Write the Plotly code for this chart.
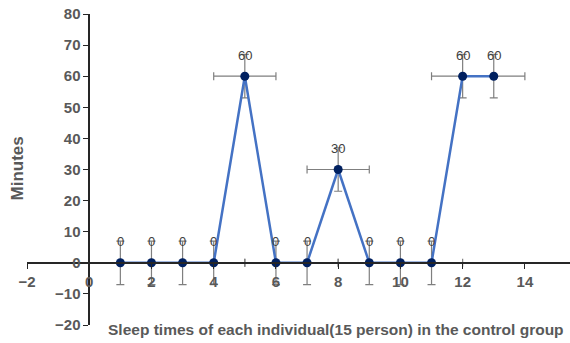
import plotly.graph_objects as go

x_vals = [1, 2, 3, 4, 5, 6, 7, 8, 9, 10, 11, 12, 13]
y_vals = [0, 0, 0, 0, 60, 0, 0, 30, 0, 0, 0, 60, 60]
y_err = [7, 7, 7, 7, 7, 7, 7, 7, 7, 7, 7, 7, 7]
x_err = [1, 1, 1, 1, 1, 1, 1, 1, 1, 1, 1, 1, 1]
x_ticks = [-2, 0, 2, 4, 6, 8, 10, 12, 14]
y_ticks = [-20, -10, 0, 10, 20, 30, 40, 50, 60, 70, 80]

X_RANGE = [-2, 15.45]
Y_RANGE = [-20, 80]

grey = "#7f7f7f"
tickfont = dict(family="Liberation Sans", size=15, color="#595959", weight="bold")

fig = go.Figure()
fig.add_trace(go.Scatter(
    x=x_vals, y=y_vals, mode="lines+markers",
    line=dict(color="#4472C4", width=2.5),
    marker=dict(color="#002060", size=9),
    error_y=dict(type="data", array=y_err, color=grey, thickness=1.2, width=4),
    error_x=dict(type="data", array=x_err, color=grey, thickness=1.2, width=4),
    showlegend=False,
    cliponaxis=False,
))

for xv, yv in zip(x_vals, y_vals):
    fig.add_annotation(x=xv, y=yv, text=str(yv), showarrow=False, yshift=21,
                       font=dict(family="Liberation Sans", size=13, color="#404040"))

fig.add_annotation(xref="paper", yref="paper", x=0.569, y=0, yanchor="middle",
                   yshift=-4,
                   text="<b>Sleep times of each individual(15 person) in the control group</b>",
                   showarrow=False, font=dict(family="Liberation Sans", size=15.5, color="#595959"))
fig.add_annotation(xref="paper", yref="paper", x=-0.0175, y=0.505,
                   textangle=-90, text="<b>Minutes</b>", showarrow=False,
                   xanchor="center", yanchor="middle",
                   font=dict(family="Liberation Sans", size=17, color="#595959"))

x_pos = (0 - X_RANGE[0]) / (X_RANGE[1] - X_RANGE[0])
y_pos = (0 - Y_RANGE[0]) / (Y_RANGE[1] - Y_RANGE[0])

fig.update_layout(
    width=570, height=343,
    margin=dict(l=27, r=0, t=14, b=18),
    plot_bgcolor="white", paper_bgcolor="white",
    hovermode=False,
    xaxis=dict(range=X_RANGE, tickvals=x_ticks, anchor="free", position=y_pos,
               showline=True, linecolor="#262626", linewidth=1.5,
               ticks="outside", ticklen=5, tickcolor="#262626",
               showgrid=False, zeroline=False, automargin=False,
               ticklabeloverflow="allow", tickfont=tickfont),
    yaxis=dict(range=Y_RANGE, tickvals=y_ticks, anchor="free", position=x_pos,
               showline=True, linecolor="#262626", linewidth=1.5,
               ticks="outside", ticklen=5, tickcolor="#262626",
               showgrid=False, zeroline=False, automargin=False,
               ticklabeloverflow="allow", tickfont=tickfont),
)

fig.write_html("out.html", config={"displayModeBar": False},
               post_script="document.body.style.margin='0px';document.body.style.overflow='hidden';")
